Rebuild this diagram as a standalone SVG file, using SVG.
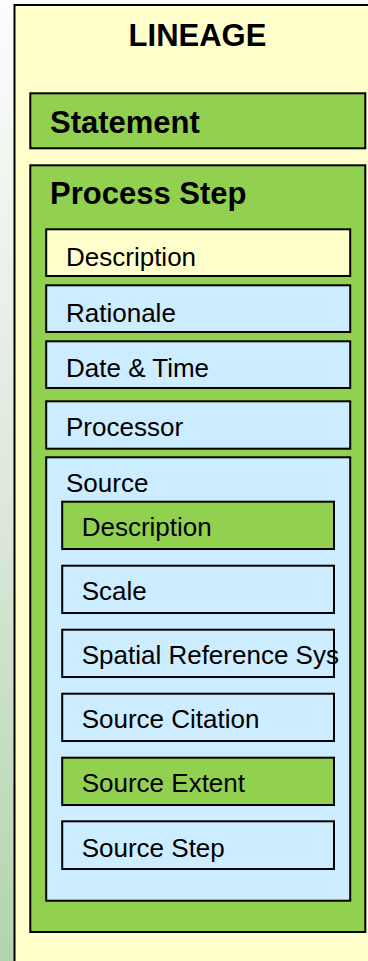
<svg xmlns="http://www.w3.org/2000/svg" width="368" height="961" viewBox="0 0 368 961">
<defs>
<linearGradient id="bg" x1="0" y1="0" x2="0" y2="1">
<stop offset="0" stop-color="#fcfdfc"/>
<stop offset="0.5" stop-color="#dde9dc"/>
<stop offset="1" stop-color="#b3d3ae"/>
</linearGradient>
<style>
rect.b{stroke:#000;stroke-width:2}
.y{fill:#ffffcc}
.g{fill:#92d050}
.l{fill:#ccecff}
text{font-family:"Liberation Sans",Arial,sans-serif;fill:#000}
.h{font-size:31px;font-weight:bold}
.t{font-size:26px}
</style>
</defs>
<rect x="0" y="0" width="368" height="961" fill="url(#bg)"/>
<g id="lineage">
<rect class="b y" x="14.5" y="5" width="400" height="1000"/>
<text class="h" x="197.5" y="45.7" text-anchor="middle">LINEAGE</text>
</g>
<g id="statement">
<rect class="b g" x="30.3" y="93.3" width="335" height="55"/>
<text class="h" x="50" y="133.3">Statement</text>
</g>
<g id="process-step">
<rect class="b g" x="30.3" y="165.3" width="335" height="766.7"/>
<text class="h" x="50" y="204">Process Step</text>
</g>
<g id="ps-description">
<rect class="b y" x="46.2" y="229.3" width="304" height="46.7"/>
<text class="t" x="66" y="265.7">Description</text>
</g>
<g id="ps-rationale">
<rect class="b l" x="46.2" y="285.3" width="304" height="46.7"/>
<text class="t" x="66" y="321.7">Rationale</text>
</g>
<g id="ps-datetime">
<rect class="b l" x="46.2" y="341.3" width="304" height="46.7"/>
<text class="t" x="66" y="376.7">Date &amp; Time</text>
</g>
<g id="ps-processor">
<rect class="b l" x="46.2" y="401.3" width="304" height="47.4"/>
<text class="t" x="66" y="435.7">Processor</text>
</g>
<g id="source">
<rect class="b l" x="46.2" y="457.3" width="304" height="443.4"/>
<text class="t" x="66" y="492.3">Source</text>
</g>
<g id="src-description">
<rect class="b g" x="62.2" y="501.7" width="271.8" height="47.3"/>
<text class="t" x="81.7" y="535.7">Description</text>
</g>
<g id="src-scale">
<rect class="b l" x="62.2" y="565.7" width="271.8" height="47.3"/>
<text class="t" x="81.7" y="600">Scale</text>
</g>
<g id="src-spatial">
<rect class="b l" x="62.2" y="629.7" width="271.8" height="47.3"/>
<text class="t" x="81.7" y="664">Spatial Reference Sys</text>
</g>
<g id="src-citation">
<rect class="b l" x="62.2" y="693.7" width="271.8" height="47.3"/>
<text class="t" x="81.7" y="728.3">Source Citation</text>
</g>
<g id="src-extent">
<rect class="b g" x="62.2" y="757.7" width="271.8" height="47.3"/>
<text class="t" x="81.7" y="792.3">Source Extent</text>
</g>
<g id="src-step">
<rect class="b l" x="62.2" y="821.3" width="271.8" height="47.7"/>
<text class="t" x="81.7" y="856.7">Source Step</text>
</g>
<g id="connectors"/>
</svg>
